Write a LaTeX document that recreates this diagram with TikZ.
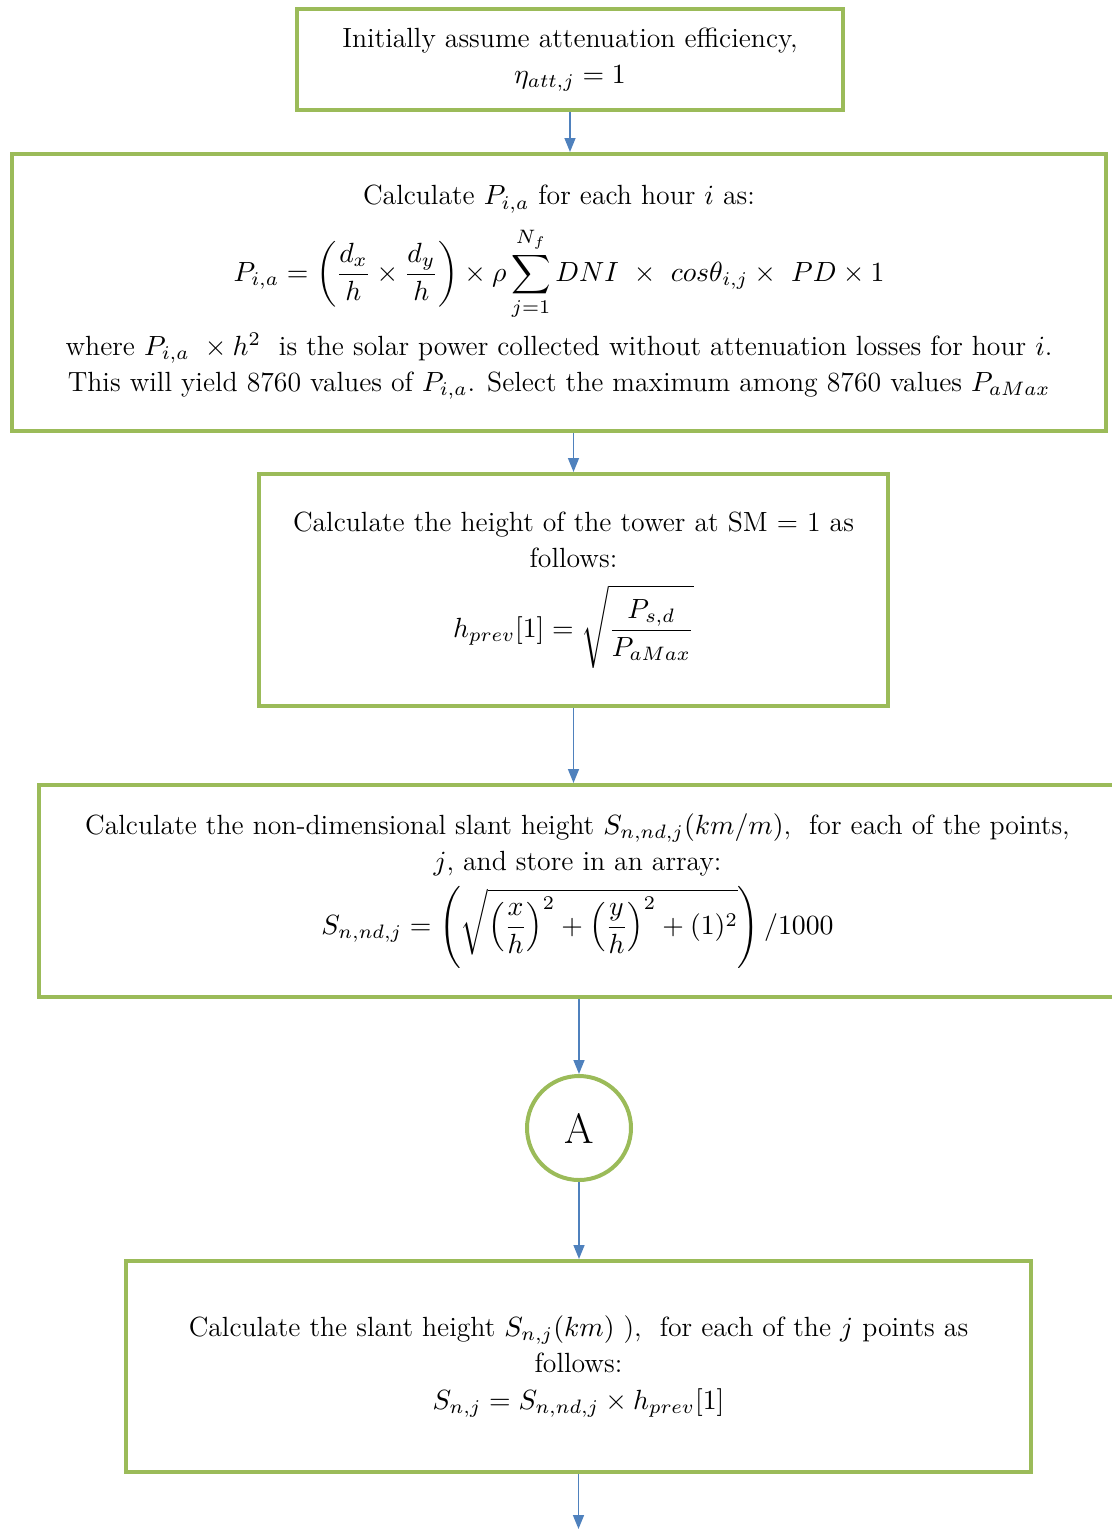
\RequirePackage{fix-cm}
\documentclass[tikz,border=0pt]{standalone}
\usepackage{amsmath}
\usetikzlibrary{arrows.meta}
\definecolor{boxgreen}{HTML}{9BBB59}
\definecolor{arrowblue}{HTML}{4F81BD}
\begin{document}
\begin{tikzpicture}[x=0.4pt,y=-0.4pt,
  stepbox/.style={draw=boxgreen, line width=1.6pt, fill=white, inner sep=0pt, align=center,
    font=\fontsize{11.1}{14.5}\selectfont},
  connector/.style={draw=arrowblue, line width=0.6pt, -{Triangle[length=5.6pt,width=4.4pt]}}]
\useasboundingbox (0,0) rectangle (1112,1529);
\node[stepbox, minimum width=218.4pt, minimum height=40.4pt] (b1) at (570,59.5)
  {Initially assume attenuation efficiency,\\ $\eta_{att,j} = 1$};
\node[stepbox, minimum width=437.6pt, minimum height=110.8pt] (b2) at (559,292.5)
  {Calculate $P_{i,a}$\ for each hour $i$ as:\\[5pt]
   $\displaystyle P_{i,a} = \left(\frac{d_x}{h}\times\frac{d_y}{h}\right)\times\rho\sum_{j=1}^{N_f} DNI\ \times\ cos\theta_{i,j}\times\ PD\times 1$\\[4pt]
   where $P_{i,a}\ \times h^2$\ \ is the solar power collected without attenuation losses for hour $i$.\\
   This will yield 8760 values of $P_{i,a}$. Select the maximum among 8760 values $P_{aMax}$};
\node[stepbox, minimum width=251.6pt, minimum height=92.8pt] (b3) at (573.5,590)
  {Calculate the height of the tower at SM = 1 as\\ follows:\\[6pt]
   $\displaystyle h_{prev}[1] = \sqrt{\frac{P_{s,d}}{P_{aMax}}}$};
\node[stepbox, minimum width=430.8pt, minimum height=84.8pt] (b4) at (577.5,891)
  {Calculate the non-dimensional slant height $S_{n,nd,j}(km/m)$,\ \ for each of the points,\\
   $j$, and store in an array:\\[3pt]
   $\displaystyle S_{n,nd,j} = \left(\sqrt{\left(\frac{x}{h}\right)^2 + \left(\frac{y}{h}\right)^2 + (1)^2}\right)/1000$};
\node[stepbox, circle, minimum size=41.6pt, font=\fontsize{17}{19}\selectfont] (cA) at (579,1128) {A};
\node[stepbox, minimum width=362pt, minimum height=84.4pt] (b5) at (578.5,1366.5)
  {Calculate the slant height $S_{n,j}(km)$ ),\ \ for each of the $j$ points as\\ follows:\\
   $S_{n,j} = S_{n,nd,j}\times h_{prev}[1]$};
\coordinate (endpt) at (576,1529);
\draw[connector] (b1.south) -- (b1.south |- b2.north);
\draw[connector] (b3.north |- b2.south) -- (b3.north);
\draw[connector] (b3.south) -- (b3.south |- b4.north);
\draw[connector] (cA.north |- b4.south) -- (cA.north);
\draw[connector] (cA.south) -- (cA.south |- b5.north);
\draw[connector] (b5.south) -- (b5.south |- endpt);
\end{tikzpicture}
\end{document}
